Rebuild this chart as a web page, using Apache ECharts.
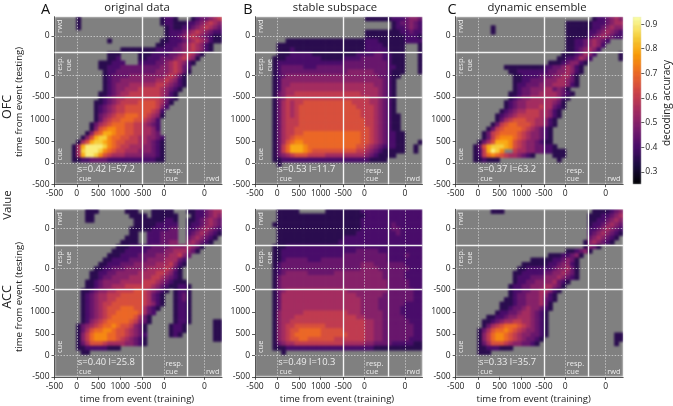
<!DOCTYPE html>
<html><head><meta charset="utf-8">
<style>html,body{margin:0;padding:0;background:#fff}#c{width:673px;height:406px}</style>
<script src="https://cdn.jsdelivr.net/npm/echarts@6/dist/echarts.min.js"></script>
</head><body><div id="c"></div>
<script>
// '.' = not significant (grey); 0..c = accuracy level, 0.30 + 0.05*level
const ofcOriginal = [
".....1..................1221...1233456",
".....1..................12211122345654",
".....1...................1211223456543",
".........................1222345654322",
".........................1223456543211",
"............1...........11222345654211",
".......................1122234565421..",
"...............111111112222334565421..",
"............111....111222233456531....",
"............112....11222333456541.....",
"..........111222...2222334565421......",
"..........112223333333334456532.......",
"...........12233333333344456531.......",
"...........1233334444444456531........",
"...........1233444444445565421........",
"...........1234445555556654321........",
"...........123445556666654321.........",
"..........112345566666665421..........",
"..........123455666666665321..........",
".........112345666677776531...........",
".........12345667777777642............",
".........1234566777777652.............",
".........1345677888776541.............",
".........135677888776542..............",
"........1356788877665432..............",
"........1478998877665542..............",
".......1478aa98877665543..............",
"......147abb9887766554432.............",
".....157abba9877666554321.............",
"....15accccb9876655544321.............",
"....15bcccb98766555444321.............",
"....15accb976555444433321.............",
"....112233332222222222211.............",
"......................................",
"......................................",
"......................................",
"......................................",
"......................................"];
const ofcStable = [
".........................1111112223443",
"...............................1233432",
"...............................1223432",
".........................1111111122322",
".........................1111111112221",
".......1111111111111111112221111112222",
".....11111111111111111111222211111...1",
".....11121111111111111111222221111...1",
".....11122222111111111122223322111...1",
"....111222222221111122223333322111...1",
"....122222222222222233333333332111...1",
"....123333322233333333333333332211...1",
"....123333333333333334444443332111...1",
"....12344444444444444444444433211.....",
"....1244444444444444444444444321......",
"....1244555555555555555555544321......",
"....1245555555555555555555554321......",
"....1345566666666666666655554321......",
"....1346666666666666666666554321......",
"....1356566777777777776666554321......",
"....1356567777777777777666654321......",
"....1356567777777777777766654321......",
"....13565677777777777777666543211.....",
"....13566677777777777777766543211.....",
"....13566677777777777777766543211.....",
"....13566777777777777777776543211.....",
"....135667788888888888887765432211....",
"....135678888888888888887765432211....",
"....135789988888888888887765432211...1",
"....1368aaa98888888888877654322211..1",
"....1368aaa98777777777766543211111..1",
"....1345677766665555555554321111......",
"....11222222222222222222221111........",
".....1................................",
"......................................",
"......................................",
"......................................",
"......................................"];
const ofcDynamic = [
"...............................1223454",
".........................1111112223455",
"........1................1111112234544",
"........1................1111122345432",
".........................1111123454322",
".........................1122345432...",
".........................112234542....",
".........................11234542.....",
"........................11123542.....1",
".......................11223542......1",
".....................111234421........",
"...........111111111223345421.........",
"............11222222233445421.........",
".............112222333445531..........",
".............112233344455431..........",
".............122333444555421..........",
".............1233444553431............",
"............112334455554321...........",
"............12344555555421............",
"...........12344555555431.............",
"...........12344555655321.............",
"..........12345566655421..............",
".........123456666655421..............",
".........13567776655421...............",
"........136788777655421...............",
".......136788887654321................",
"......1367888876544321................",
"......1368999876544321................",
".....1357aaa9765443211................",
"....137abbba97654433221...............",
"....126acb9..655443322111.............",
"....12689876554321....111.............",
"....112111.............1..............",
"......................................",
"......................................",
"......................................",
"......................................",
"......................................"];
const accOriginal = [
".......111......111...11111...11223455",
".......11........1111.111111...1223454",
".......11.........1111111221..11234543",
"..................1111122222..12234543",
".................11111222233..22345432",
".................11..2223333..23454321",
"................111..2223333..3454321.",
"...............1111..2223344..454321..",
"..............11122222333344445431....",
".............11122222333344555431.....",
"............1112222333344455643.......",
"...........1122223333444455532........",
"..........11222333444445556421........",
".........11223334444455556531.........",
"........112233444445555665421.........",
"........112334444555556654321.........",
".......11234444555556665432111........",
".......112344555666666543211221.......",
"......11234455666677654321.1221.......",
"......1234556667777765321..1231.......",
"......1234556677777765321..1231.......",
"......1234566777777765421..1221.......",
"......123456777888775321...1221.......",
"......12345677888887532....1221.......",
"......1234567888887531.....1221.......",
"......1245678888876431.....1221.....11",
".....1345678898776431.....1221......11",
".....1357889987765431.....1221......11",
".....1468999887765432.....121.......11",
".....1468999887654321...............11",
".....1357776555544321.................",
".....1122222111.......................",
"......11..............................",
"......................................",
"......................................",
"......................................",
"......................................",
"......................................"];
const accStable = [
".....11111......1111111122222222222222",
".....111111111111111111112222222222222",
".....111111111111111111122222222222222",
"....1111111111111111111122222223222222",
".....111111111111111111122222223322222",
".....111111111111111111222222222322222",
".....111111111111111222222222222222222",
".....111111111111112222222222222222222",
"....1112222222222222222222222222222222",
"....1122222222222222222333332222222222",
"....1122222222222222333333333322223222",
"....1123333322233333333333333322222222",
"....1233333333333333333344433333332222",
"....1233333333333333333344443333333222",
"....1234444433333344444444444333332222",
"....1344444444444444444444444333332222",
"....1344444444444444444444444433333222",
"....1344444444444444444444444433333222",
"....1345555555555555544444444433333322",
"....1355555555555555555444444333333322",
"....1355555555555555555544443333333322",
"....1355555555555555555544443333332222",
"....1355555555555555555544443333322222",
"....1455555666666666655544444333322222",
"....1455566666666666666554444333332222",
"....1455666666666666666665544333333222",
"....1456677777776666666665544333333322",
"....1456778888877777666665544333333322",
"....1456788888877777766665544333333322",
"....1456778877777766666665544333333222",
"....1345566666666666555554433332222211",
"....1112222222222222222222211111111111",
"......1...............................",
"......................................",
"......................................",
"......................................",
"......................................",
"......................................"];
const accDynamic = [
"........111....................1111234",
"..............................11122345",
"..............................11223454",
"..............................12234543",
"..............................22345432",
"..............................23454321",
"..............................3454321.",
".............................1454321..",
".............................1431.....",
".........................112341.......",
".....................11122341.........",
".................11111223431..........",
"...............1111112234421..........",
"..............11222222344531..........",
".............112222233445431..........",
".............122233344454321..........",
".............1223344445321............",
"............1223344455431.............",
"............122334455421..............",
"............12334445421...............",
"...........112334445321...............",
"..........111233444531................",
"..........112334544321................",
".........122334554321.................",
".......11223445554321.................",
"......112345566554321.................",
"......135678887654321.................",
".....1357889876544321.................",
".....1468998765443321...............11",
".....146899876543321................11",
".....13577765443321.................1.",
".....11222111.........................",
".....111..............................",
"......................................",
"......................................",
"......................................",
"......................................",
"......................................"];

const panelRows = [ofcOriginal, ofcStable, ofcDynamic, accOriginal, accStable, accDynamic];
const panelStats = ["s=0.42 l=57.2","s=0.53 l=11.7","s=0.37 l=63.2","s=0.40 l=25.8","s=0.49 l=10.3","s=0.33 l=35.7"];
const panelTitles = ["original data","stable subspace","dynamic ensemble"];
const panelLetters = ["A","B","C"];
const xTickPos = [0,505,995,1490,2000,2485,3400];
const xTickLabels = ["-500","0","500","1000","-500","0","0"];
const yTickPos = [0,480,975,1475,1980,2465,3365];
const yTickLabels = ["-500","0","500","1000","-500","0","0"];
const xEpochLines = [2000,3015];
const yEpochLines = [1980,2995];
const xZeroLines = [505,2485,3400];
const yZeroLines = [480,2465,3365];
const colorTicks = [0.3,0.4,0.5,0.6,0.7,0.8,0.9];
const infernoStops = ["#000004","#1b0c41","#4a0c6b","#781c6d","#a52c60","#cf4446","#ed6925","#fb9b06","#f7d13d","#fcffa4"];
const accMin = 0.25, accMax = 0.93, span = 3800, cells = 38;

const FONT = '"Open Sans", sans-serif';
const lefts = [54.5,255,455.7], tops = [16.7,209.3], W = 167.5, H = 167.5;
const idx = Array.from({length:cells},(_,i)=>i);
const grid=[], xAxis=[], yAxis=[], series=[], graphic=[];
function txt(t,x,y,size,fill,rot,align){
  graphic.push({type:'text',x,y,rotation:rot?Math.PI/2:0,z:100,zlevel:1,silent:true,
    style:{text:t,fill,font:size+'px '+FONT,align:align||'center',verticalAlign:'middle',lineHeight:size+1}});
}
panelRows.forEach((rows,p)=>{
  const col=p%3,row=Math.floor(p/3),L=lefts[col],T=tops[row];
  grid.push({left:L,top:T,width:W,height:H,show:true,backgroundColor:'#808080',borderWidth:0});
  const a=xAxis.length;
  xAxis.push({type:'category',gridIndex:p,data:idx,show:false});
  xAxis.push({type:'value',gridIndex:p,zlevel:1,min:0,max:span,position:'bottom',splitLine:{show:false},
    axisLine:{show:true,onZero:false,lineStyle:{color:'#555',width:1}},
    axisTick:{show:true,length:3,customValues:xTickPos,lineStyle:{color:'#333',width:.8}},
    axisLabel:{customValues:xTickPos,showMinLabel:true,showMaxLabel:true,hideOverlap:false,margin:5,fontFamily:FONT,fontSize:8.5,color:'#222',
      formatter:v=>xTickLabels[xTickPos.indexOf(v)]}});
  yAxis.push({type:'category',gridIndex:p,data:idx,show:false});
  yAxis.push({type:'value',gridIndex:p,zlevel:1,min:0,max:span,position:'left',splitLine:{show:false},
    axisLine:{show:true,onZero:false,lineStyle:{color:'#555',width:1}},
    axisTick:{show:true,length:3,customValues:yTickPos,lineStyle:{color:'#333',width:.8}},
    axisLabel:{customValues:yTickPos,showMinLabel:true,showMaxLabel:true,hideOverlap:false,margin:5,fontFamily:FONT,fontSize:8.5,color:'#222',
      formatter:v=>yTickLabels[yTickPos.indexOf(v)]}});
  const data=[];
  rows.forEach((s,r)=>{for(let c=0;c<cells&&c<s.length;c++){const ch=s[c];
    if(ch!=='.') data.push([c,cells-1-r,+(0.30+0.05*parseInt(ch,36)).toFixed(2)]);}});
  series.push({type:'heatmap',xAxisIndex:a,yAxisIndex:a,data,silent:true,progressive:0,animation:false,z:2});
  series.push({type:'line',xAxisIndex:a+1,yAxisIndex:a+1,data:[],silent:true,zlevel:1,z:5,markLine:{silent:true,symbol:'none',animation:false,label:{show:false},zlevel:1,z:5,
    data:[
      ...xZeroLines.map(v=>({xAxis:v,lineStyle:{color:'#dcdcdc',width:.7,type:[1.5,1.5]}})),
      ...yZeroLines.map(v=>({yAxis:v,lineStyle:{color:'#dcdcdc',width:.7,type:[1.5,1.5]}})),
      ...xEpochLines.map(v=>({xAxis:v,lineStyle:{color:'#f6f6f6',width:1.4,type:'solid'}})),
      ...yEpochLines.map(v=>({yAxis:v,lineStyle:{color:'#f2f2f2',width:1.4,type:'solid'}}))
    ]}});
  const ink='#ececec';
  txt(panelStats[p],L+23.3,T+152.8,9.4,ink,false,'left');
  txt('cue',L+24.5,T+162.5,7.5,ink,false,'left');
  txt('resp.',L+111,T+154.5,7.5,ink,false,'left');
  txt('cue',L+111,T+162.5,7.5,ink,false,'left');
  txt('rwd',L+151.5,T+162.5,7.5,ink,false,'left');
  txt('rwd',L+5.5,T+9.5,7.5,ink,true);
  txt('resp.',L+5.5,T+48.5,7.5,ink,true);
  txt('cue',L+14.5,T+48.5,7.5,ink,true);
  txt('cue',L+5.5,T+137.5,7.5,ink,true);
  if(row===1) txt('time from event (training)',L+(col===0?82.5:col===1?82:78),399.5,9.6,'#222');
});
[0,1,2].forEach(i=>{
  txt(panelTitles[i],[137,335,537][i],7.5,11.3,'#222');
  txt(panelLetters[i],[45.5,248,452][i],9.5,14.5,'#111');
});
txt('OFC',7.5,107,12.5,'#222',true);
txt('Value',7.5,205,11.5,'#222',true);
txt('ACC',7.5,297,12.5,'#222',true);
txt('time from event (testing)',19.5,102,9.6,'#222',true);
txt('time from event (testing)',19.5,297,9.6,'#222',true);
txt('decoding accuracy',667,103,10,'#222',true);

// colour bar
const levels=[];for(let i=0;i<=Math.round((accMax-accMin)*100);i++)levels.push(+(accMin+i*0.01).toFixed(2));
const g=grid.length;
const cbar={left:632.7,top:16.7,width:8.6,height:167.6};
grid.push({...cbar,show:true,backgroundColor:'#000',borderWidth:0});
const a=xAxis.length;
xAxis.push({type:'category',gridIndex:g,data:['c'],show:false});
yAxis.push({type:'category',gridIndex:g,data:levels,show:false});
yAxis.push({type:'value',gridIndex:g,zlevel:1,min:accMin,max:accMax,position:'right',splitLine:{show:false},
  axisLine:{show:false},axisTick:{show:true,length:3,customValues:colorTicks,lineStyle:{color:'#333',width:.8}},
  axisLabel:{customValues:colorTicks,margin:4,fontFamily:FONT,fontSize:8.5,color:'#222',formatter:v=>v.toFixed(1)}});
series.push({type:'heatmap',xAxisIndex:a,yAxisIndex:yAxis.length-2,data:levels.map((v,i)=>[0,i,v]),silent:true,progressive:0,z:2});
xAxis.push({type:'value',gridIndex:g,zlevel:1,min:0,max:1,show:false});
series.push({type:'line',xAxisIndex:a+1,yAxisIndex:yAxis.length-1,data:[],silent:true,zlevel:1});

const chart=echarts.init(document.getElementById('c'),null,{renderer:'canvas'});
chart.setOption({animation:false,grid,xAxis,yAxis,series,graphic:{elements:graphic},
  visualMap:{show:false,type:'continuous',min:accMin,max:accMax,inRange:{color:infernoStops},
    seriesIndex:series.map((s,i)=>s.type==='heatmap'?i:-1).filter(i=>i>=0)}});
// soften the cell grid of the bottom (heatmap) layer only, clipped to the panels
const rects=[];
tops.forEach(T=>lefts.forEach(L=>rects.push(`M${L} ${T}h${W}v${H}h${-W}z`)));
rects.push(`M${cbar.left} ${cbar.top}h${cbar.width}v${cbar.height}h${-cbar.width}z`);
const base=document.querySelector('#c canvas');
base.style.filter='blur(1.3px)';
base.style.clipPath=`path('${rects.join(' ')}')`;
</script></body></html>
